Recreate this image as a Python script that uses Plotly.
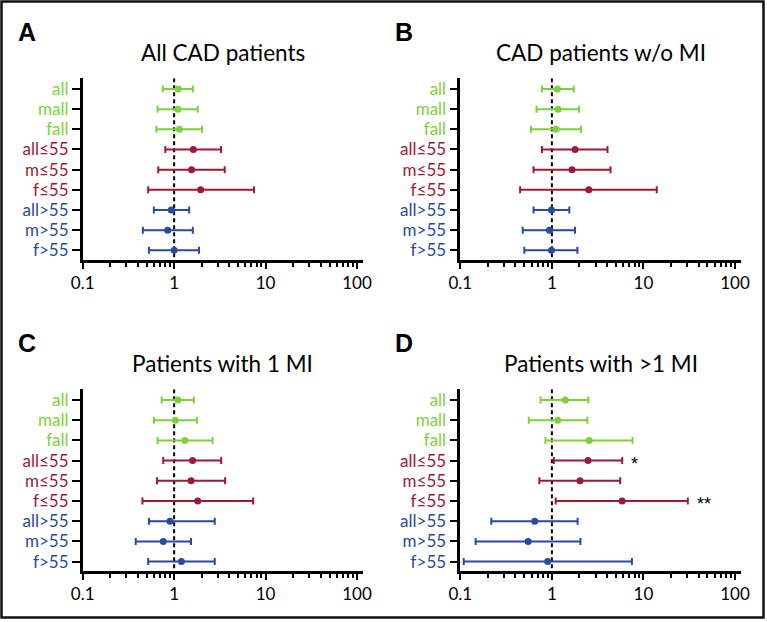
import numpy as np
import plotly.graph_objects as go

# ---------------- data ----------------
categories = ["all", "mall", "fall", "all≤55", "m≤55", "f≤55", "all>55", "m>55", "f>55"]
groups = [0, 0, 0, 1, 1, 1, 2, 2, 2]  # 0 = all ages, 1 = ≤55, 2 = >55

panel_titles = ["All CAD patients", "CAD patients w/o MI", "Patients with 1 MI", "Patients with >1 MI"]
panel_letters = ["A", "B", "C", "D"]

# odds ratio, lower CI, upper CI per panel
A_or = [1.11, 1.10, 1.14, 1.62, 1.55, 1.95, 0.93, 0.85, 1.00]
A_lo = [0.75, 0.66, 0.64, 0.80, 0.67, 0.52, 0.60, 0.455, 0.53]
A_hi = [1.60, 1.81, 2.02, 3.26, 3.57, 7.46, 1.46, 1.60, 1.87]

B_or = [1.15, 1.17, 1.11, 1.79, 1.66, 2.53, 0.99, 0.94, 0.99]
B_lo = [0.78, 0.68, 0.59, 0.78, 0.63, 0.45, 0.63, 0.48, 0.50]
B_hi = [1.73, 1.98, 2.08, 4.05, 4.37, 13.97, 1.55, 1.79, 1.90]

C_or = [1.10, 1.03, 1.31, 1.59, 1.53, 1.81, 0.90, 0.76, 1.20]
C_lo = [0.73, 0.60, 0.66, 0.76, 0.65, 0.45, 0.53, 0.38, 0.52]
C_hi = [1.64, 1.77, 2.63, 3.27, 3.61, 7.31, 2.78, 1.53, 2.78]

D_or = [1.40, 1.16, 2.55, 2.48, 2.03, 5.86, 0.65, 0.55, 0.90]
D_lo = [0.75, 0.56, 0.85, 1.05, 0.73, 1.10, 0.218, 0.147, 0.109]
D_hi = [2.50, 2.44, 7.60, 5.86, 5.57, 30.5, 1.91, 2.05, 7.48]

D_stars = ["", "", "", "*", "", "**", "", "", ""]

panels = [(A_or, A_lo, A_hi, None), (B_or, B_lo, B_hi, None),
          (C_or, C_lo, C_hi, None), (D_or, D_lo, D_hi, D_stars)]

# ---------------- style ----------------
W, H = 767, 622
colors = ["#7ed13b", "#9c1a34", "#2a4aa0"]
FONT = "Lato, 'Open Sans', sans-serif"

# axis domains in pixels (left, right, top, bottom)
boxes = [(82.7, 363.0, 78.3, 260.0), (460.3, 741.0, 78.3, 260.0),
         (82.7, 363.0, 389.3, 571.3), (460.3, 741.0, 389.3, 571.3)]

fig = go.Figure()
ypos = np.arange(1, len(categories) + 1)

layout = dict(width=W, height=H, margin=dict(l=0, r=0, t=0, b=0, autoexpand=False),
              paper_bgcolor="white", plot_bgcolor="white", showlegend=False,
              font=dict(family=FONT, color="black"))

annotations = []
shapes = []

for i, (orv, lo, hi, stars) in enumerate(panels):
    n = "" if i == 0 else str(i + 1)
    xa, ya = "x" + n, "y" + n
    l, r, t, b = boxes[i]
    orv, lo, hi = np.array(orv), np.array(lo), np.array(hi)

    # reference line at OR = 1
    fig.add_trace(go.Scatter(x=[1, 1], y=[0.47, 9.48], mode="lines",
                             line=dict(color="black", width=2, dash="4px,3px"),
                             xaxis=xa, yaxis=ya, hoverinfo="skip"))
    for g in range(3):
        idx = [k for k in range(len(categories)) if groups[k] == g]
        fig.add_trace(go.Scatter(
            x=orv[idx], y=ypos[idx], mode="markers",
            marker=dict(color=colors[g], size=7),
            error_x=dict(type="data", symmetric=False,
                         array=(hi - orv)[idx], arrayminus=(orv - lo)[idx],
                         color=colors[g], thickness=2, width=3.5),
            xaxis=xa, yaxis=ya))

    ticktext = ['<span style="color:%s">%s</span>' % (colors[groups[k]], c)
                for k, c in enumerate(categories)]

    layout["xaxis" + n] = dict(
        type="log", range=[-1, 2.065], domain=[l / W, r / W], anchor=ya,
        automargin=False,
        tickmode="linear", tick0=0, dtick=1, ticks="outside", ticklen=6, tickwidth=2,
        tickcolor="black", showline=True, linewidth=2.5, linecolor="black",
        showgrid=False, zeroline=False, tickfont=dict(size=17, family=FONT),
        minor=dict(dtick="D1", ticks="outside", ticklen=4, tickwidth=1.5,
                   tickcolor="black", showgrid=False))
    layout["yaxis" + n] = dict(
        range=[9.48, 0.47], domain=[1 - b / H, 1 - t / H], anchor=xa,
        automargin=False,
        tickmode="array", tickvals=list(ypos), ticktext=ticktext,
        ticks="outside", ticklen=8, tickwidth=2, tickcolor="black",
        showline=True, linewidth=2.5, linecolor="black", showgrid=False,
        zeroline=False, tickfont=dict(size=17, family=FONT))

    # panel title centred over the plot area
    annotations.append(dict(text=panel_titles[i], xref=xa + " domain", x=0.5,
                            yref="paper", y=1 - (t - 26) / H, xanchor="center",
                            yanchor="middle", showarrow=False,
                            font=dict(size=22.5, family=FONT, color="black")))
    # panel letter
    annotations.append(dict(text="<b>%s</b>" % panel_letters[i], xref="paper",
                            x=(l - 67) / W, yref="paper", y=1 - (t - 46) / H,
                            xanchor="left", yanchor="middle", showarrow=False,
                            font=dict(size=25, family="Liberation Sans, Arial, sans-serif",
                                      color="black")))
    if stars:
        for k, s in enumerate(stars):
            if s:
                annotations.append(dict(text=s, xref=xa, x=float(np.log10(hi[k])),
                                        yref=ya, y=float(ypos[k]), xanchor="left",
                                        yanchor="middle", xshift=7, yshift=-3,
                                        showarrow=False,
                                        font=dict(size=18, family="Liberation Sans, Arial, sans-serif",
                                                  color="black")))

# outer frame
shapes.append(dict(type="rect", xref="paper", yref="paper",
                   x0=1.5 / W, x1=763.5 / W, y0=1 - 617.5 / H, y1=1 - 1.5 / H,
                   line=dict(color="#111", width=2.5), fillcolor="rgba(0,0,0,0)"))

layout["annotations"] = annotations
layout["shapes"] = shapes
fig.update_layout(**layout)
fig.write_html("out.html", config={"displayModeBar": False},
               post_script="document.body.style.margin='0';document.body.style.overflow='hidden';")
